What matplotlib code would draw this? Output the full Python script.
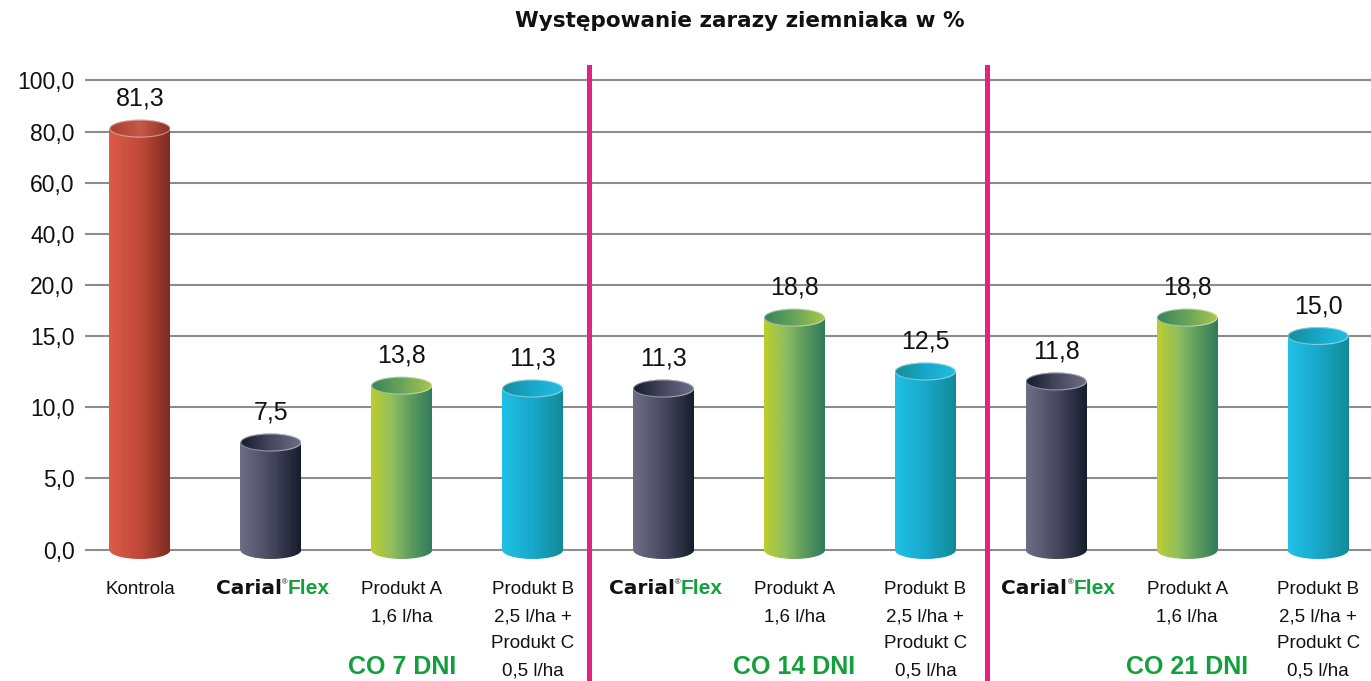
import numpy as np
import matplotlib
matplotlib.use("Agg")
import matplotlib.pyplot as plt
from matplotlib.patches import Ellipse
from matplotlib.transforms import ScaledTranslation
from matplotlib.colors import LinearSegmentedColormap

# --- dane ---
value_labels = [81.3, 7.5, 13.8, 11.3, 11.3, 18.8, 12.5, 11.8, 18.8, 15.0]
# wysokosc slupkow tak jak narysowane na oryginale
bar_heights = [81.3, 7.5, 11.5, 11.3, 11.3, 16.8, 12.5, 11.8, 16.8, 15.0]
kinds = ['kontrola', 'carial', 'prod_a', 'prod_b',
         'carial', 'prod_a', 'prod_b',
         'carial', 'prod_a', 'prod_b']
category_lines = [
    ['Kontrola'],
    None,
    ['Produkt A', '1,6 l/ha'],
    ['Produkt B', '2,5 l/ha +', 'Produkt C', '0,5 l/ha'],
    None,
    ['Produkt A', '1,6 l/ha'],
    ['Produkt B', '2,5 l/ha +', 'Produkt C', '0,5 l/ha'],
    None,
    ['Produkt A', '1,6 l/ha'],
    ['Produkt B', '2,5 l/ha +', 'Produkt C', '0,5 l/ha'],
]
group_labels = ['CO 7 DNI', 'CO 14 DNI', 'CO 21 DNI']
group_anchor = [2, 5, 8]
separators = [3.43, 6.47]
y_ticks = [0, 5, 10, 15, 20, 40, 60, 80, 100]
title = 'Występowanie zarazy ziemniaka w %'

# --- os Y nieliniowa (jak w oryginale) ---
TICK_PX = [0, 72, 143, 214, 265, 316, 367, 418, 470]


def fwd(v):
    v = np.asarray(v, dtype=float)
    out = np.interp(v, y_ticks, TICK_PX)
    out = np.where(v < 0, v * 72 / 5, out)
    out = np.where(v > 100, 470 + (v - 100) * 51 / 20, out)
    return out


def inv(p):
    p = np.asarray(p, dtype=float)
    out = np.interp(p, TICK_PX, y_ticks)
    out = np.where(p < 0, p * 5 / 72, out)
    out = np.where(p > 470, 100 + (p - 470) * 20 / 51, out)
    return out


GRADS = {
    'kontrola': (['#dc5a48', '#c04a3a', '#7e2b1f'], ['#a84231', '#c65848', '#8c3224']),
    'carial': (['#6e6d86', '#474860', '#161d2b'], ['#161d2b', '#474860', '#6e6d86']),
    'prod_a': (['#bccd2f', '#8fbf5f', '#5c9a5e', '#2f7c5a'], ['#3a8558', '#6aa45c', '#a8c84a']),
    'prod_b': (['#20c0e6', '#18a8c9', '#128a96'], ['#148f9c', '#18a8c9', '#22bde2']),
}


def grad(colors, n=96):
    cmap = LinearSegmentedColormap.from_list('g', colors)
    return cmap(np.linspace(0, 1, n))[None, :, :]


plt.rcParams['font.family'] = ['Liberation Sans', 'DejaVu Sans']

W, H = 1371, 681
fig = plt.figure(figsize=(W / 100, H / 100), dpi=100, facecolor='white')

y_lo, y_hi = -0.7, 101
span_px = float(fwd(y_hi) - fwd(y_lo))
ax_bottom_px = 550 - float(fwd(y_lo))  # piksel (od gory) dolnej krawedzi osi
ax = fig.add_axes([85 / W, (H - ax_bottom_px) / H, 1 - 85 / W, span_px / H])
ax.set_yscale('function', functions=(fwd, inv))

x = np.arange(len(bar_heights))
width = 0.466
ax.set_xlim(-0.42, 9.404)
ax.set_ylim(y_lo, y_hi)

bars = ax.bar(x, bar_heights, width, color='none', linewidth=0, zorder=2)

w_px = ax.transData.transform([(width, 1)])[0][0] - ax.transData.transform([(0, 1)])[0][0]
ell_h = 18

for xi, h, kind, patch in zip(x, bar_heights, kinds, bars):
    body, top = GRADS[kind]
    ext = (xi - width / 2, xi + width / 2, y_lo, y_hi)

    im = ax.imshow(grad(body), extent=ext, aspect='auto', interpolation='bilinear', zorder=2)
    im.set_clip_path(patch)

    # dolna elipsa
    e_bot = Ellipse((0, 0), w_px, ell_h, transform=ScaledTranslation(xi, 0, ax.transData))
    im_b = ax.imshow(grad(body), extent=ext, aspect='auto', interpolation='bilinear', zorder=1.9)
    im_b.set_clip_path(e_bot)

    # gorna elipsa
    e_top = Ellipse((0, 0), w_px, ell_h, transform=ScaledTranslation(xi, h, ax.transData))
    im_t = ax.imshow(grad(top), extent=ext, aspect='auto', interpolation='bilinear', zorder=3)
    im_t.set_clip_path(e_top)
    rim = Ellipse((0, 0), w_px - 1, ell_h - 1, transform=ScaledTranslation(xi, h, ax.transData),
                  facecolor='none', edgecolor='white', alpha=0.45, linewidth=0.8, zorder=3.5)
    ax.add_artist(rim)

ax.set_xlim(-0.42, 9.404)
ax.set_ylim(y_lo, y_hi)

# etykiety wartosci
for xi, h, v in zip(x, bar_heights, value_labels):
    ax.annotate(f'{v:.1f}'.replace('.', ','), xy=(xi, h), xytext=(0, 30),
                textcoords='offset pixels', ha='center', va='center', fontsize=18,
                color='#111111', zorder=6)

# etykiety kategorii
green = '#13a03c'
for xi, lines in zip(x, category_lines):
    if lines is None:
        ax.annotate('Carial', xy=(xi, 0), xytext=(11, -39), textcoords='offset pixels',
                    ha='right', va='center', fontsize=14.5, fontweight='bold',
                    family=['DejaVu Sans'], color='#111111', annotation_clip=False)
        ax.annotate('®', xy=(xi, 0), xytext=(14, -33), textcoords='offset pixels',
                    ha='center', va='center', fontsize=5.5, color='#111111',
                    annotation_clip=False)
        ax.annotate('Flex', xy=(xi, 0), xytext=(17, -39), textcoords='offset pixels',
                    ha='left', va='center', fontsize=15, fontweight='bold',
                    color=green, annotation_clip=False)
        continue
    for j, line in enumerate(lines):
        ax.annotate(line, xy=(xi, 0), xytext=(0, -(39 + 27.5 * j)), textcoords='offset pixels',
                    ha='center', va='center', fontsize=13.5, color='#111111',
                    annotation_clip=False)

for gi, label in zip(group_anchor, group_labels):
    ax.annotate(label, xy=(gi, 0), xytext=(0, -117), textcoords='offset pixels',
                ha='center', va='center', fontsize=18, fontweight='bold',
                color=green, annotation_clip=False)

# linie oddzielajace grupy
ymax = (ax_bottom_px - 67) / span_px
ymin = (ax_bottom_px - H - 5) / span_px
for sx in separators:
    ax.axvline(sx, ymin=ymin, ymax=ymax, color='#e4237f', linewidth=3.6,
               clip_on=False, zorder=5)

# osie
ax.set_yticks(y_ticks)
ax.set_yticklabels([f'{t:.1f}'.replace('.', ',') for t in y_ticks])
ax.yaxis.set_minor_locator(matplotlib.ticker.NullLocator())
ax.set_xticks([])
ax.tick_params(axis='y', length=0, pad=7.5, labelsize=16.5, labelcolor='#111111')
ax.yaxis.grid(True, color='#8c8c8c', linewidth=1.5)
ax.set_axisbelow(True)
for s in ax.spines.values():
    s.set_visible(False)
ax.set_facecolor('white')

fig.text(740 / W, 1 - 27 / H, title, ha='center', va='baseline',
         fontsize=15.5, fontweight='bold', family=['DejaVu Sans'], color='#111111')

fig.savefig('out.png', dpi=100, facecolor='white')
plt.close(fig)
